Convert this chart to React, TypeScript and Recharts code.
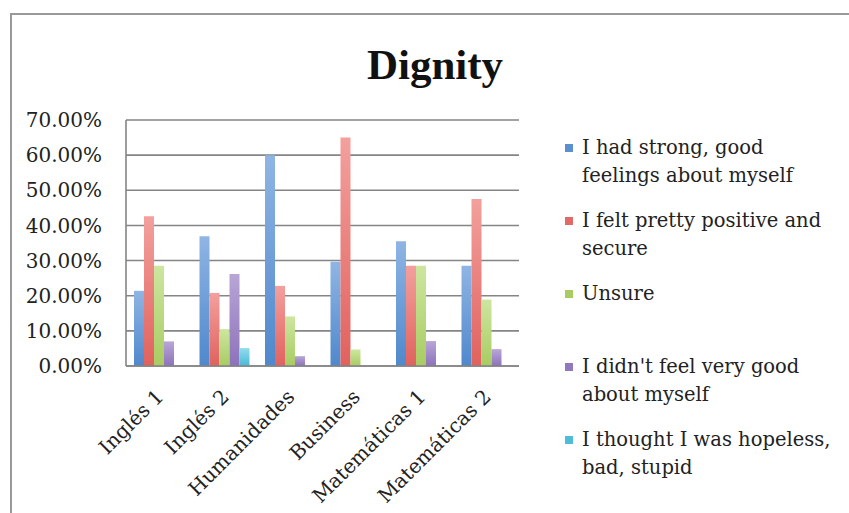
import React from "react";
import { Bar, BarChart, CartesianGrid, XAxis, YAxis } from "recharts";

// categories along the x axis
const courses = ["Inglés 1", "Inglés 2", "Humanidades", "Business", "Matemáticas 1", "Matemáticas 2"];

// one array per answer, in percent
const strongGood = [21.4, 36.9, 60.0, 29.7, 35.5, 28.5];
const prettyPositive = [42.6, 20.8, 22.8, 65.0, 28.5, 47.5];
const unsure = [28.5, 10.5, 14.1, 4.7, 28.5, 18.9];
const notVeryGood = [7.0, 26.2, 2.8, 0, 7.1, 4.8];
const hopeless = [0, 5.1, 0, 0, 0, 0];

const yTicks = [0, 10, 20, 30, 40, 50, 60, 70];

const seriesNames = [
    "I had strong, good\nfeelings about myself",
    "I felt pretty positive and\nsecure",
    "Unsure",
    "I didn't feel very good\nabout myself",
    "I thought I was hopeless,\nbad, stupid",
];

const palette = [
    { id: "gBlue", top: "#8fb5e4", bottom: "#4f88cc", swatch: "#5a8fd0" },
    { id: "gRed", top: "#f3a09d", bottom: "#e0625e", swatch: "#e06a66" },
    { id: "gGreen", top: "#cde6a0", bottom: "#a8cc62", swatch: "#a8cc62" },
    { id: "gPurple", top: "#b9a6d6", bottom: "#8d72bb", swatch: "#9179bd" },
    { id: "gCyan", top: "#93dced", bottom: "#48b9d6", swatch: "#4fbdd9" },
];

const keys = ["s0", "s1", "s2", "s3", "s4"];

const data = courses.map((name, i) => ({
    name,
    s0: strongGood[i],
    s1: prettyPositive[i],
    s2: unsure[i],
    s3: notVeryGood[i],
    s4: hopeless[i],
}));

const serif = "'DejaVu Serif', serif";

function AngledTick(props: any) {
    const { x, y, payload } = props;
    return (
        <g transform={`translate(${x + 6},${y + 24})`}>
            <text
                transform="rotate(-45)"
                textAnchor="end"
                fontFamily={serif}
                fontSize={20}
                fill="#222"
            >
                {payload.value}
            </text>
        </g>
    );
}

// legend drawn by hand so order and spacing follow the original
function LegendBox() {
    return (
        <div
            style={{
                position: "absolute",
                left: 565,
                top: 134,
                width: 280,
                fontFamily: serif,
                fontSize: 19.5,
                color: "#222",
                lineHeight: "28px",
            }}
        >
            {seriesNames.map((label, i) => (
                <div key={i} style={{ height: 73, display: "flex", alignItems: "flex-start" }}>
                    <div
                        style={{
                            width: 8,
                            height: 8,
                            marginTop: 10,
                            marginRight: 9,
                            flexShrink: 0,
                            background: palette[i].swatch,
                        }}
                    />
                    <div style={{ whiteSpace: "pre-line" }}>{label}</div>
                </div>
            ))}
        </div>
    );
}

export default function App() {
    return (
        <div
            style={{
                position: "absolute",
                left: 0,
                top: 0,
                width: 849,
                height: 513,
                background: "#fff",
                overflow: "hidden",
            }}
        >
            <div
                style={{
                    position: "absolute",
                    left: 10,
                    top: 13,
                    width: 860,
                    height: 520,
                    borderLeft: "2px solid #999",
                    borderTop: "2px solid #999",
                }}
            />
            <div
                style={{
                    position: "absolute",
                    left: 0,
                    top: 40,
                    width: 870,
                    textAlign: "center",
                    fontFamily: "'Liberation Serif', serif",
                    fontWeight: "bold",
                    fontSize: 43,
                    color: "#111",
                }}
            >
                Dignity
            </div>
            <div style={{ position: "absolute", left: 0, top: 0 }}>
                <BarChart
                    width={849}
                    height={513}
                    data={data}
                    margin={{ top: 120, right: 330, bottom: 0, left: 0 }}
                    barCategoryGap={8}
                    barGap={0}
                >
                    <defs>
                        {palette.map((p) => (
                            <linearGradient key={p.id} id={p.id} x1="0" y1="0" x2="0" y2="1">
                                <stop offset="0%" stopColor={p.top} />
                                <stop offset="100%" stopColor={p.bottom} />
                            </linearGradient>
                        ))}
                    </defs>
                    <CartesianGrid vertical={false} stroke="#858585" strokeWidth={1.6} />
                    <XAxis
                        dataKey="name"
                        height={147}
                        interval={0}
                        tickLine={false}
                        axisLine={{ stroke: "#858585", strokeWidth: 1.6 }}
                        tick={<AngledTick />}
                    />
                    <YAxis
                        width={126}
                        domain={[0, 70]}
                        ticks={yTicks}
                        tickLine={false}
                        tickMargin={18}
                        axisLine={{ stroke: "#858585", strokeWidth: 1.6 }}
                        tickFormatter={(v: number) => `${v.toFixed(2)}%`}
                        tick={{ fontFamily: serif, fontSize: 20, fill: "#222" }}
                    />
                    {keys.map((k, i) => (
                        <Bar
                            key={k}
                            dataKey={k}
                            name={seriesNames[i]}
                            fill={`url(#${palette[i].id})`}
                            isAnimationActive={false}
                        />
                    ))}
                </BarChart>
            </div>
            <LegendBox />
        </div>
    );
}
